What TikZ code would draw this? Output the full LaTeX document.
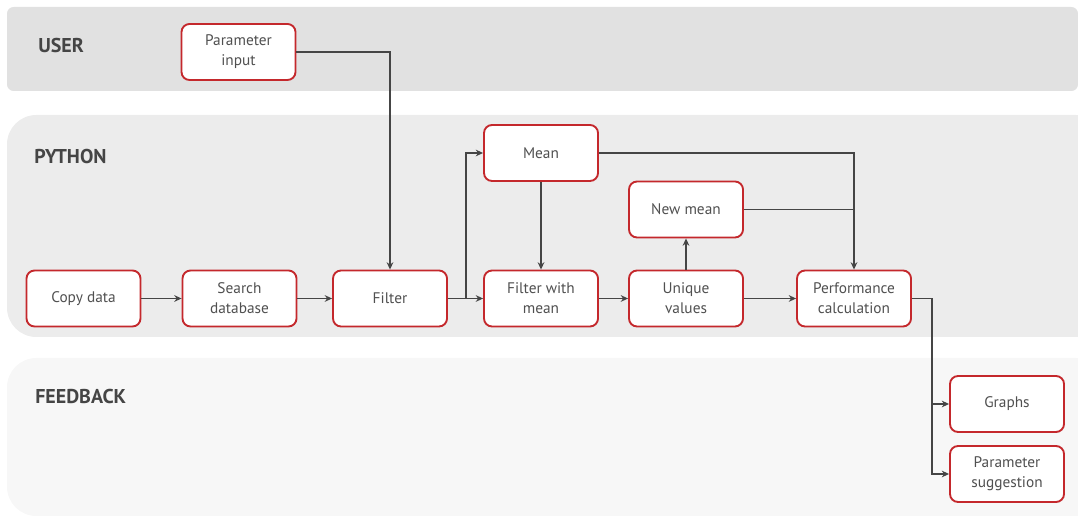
\documentclass[tikz,border=0pt]{standalone}
\usepackage{fontspec}
\setmainfont{PT Sans}
\usetikzlibrary{arrows.meta}

\definecolor{boxred}{HTML}{C4282C}
\definecolor{linegray}{HTML}{454545}
\definecolor{textgray}{HTML}{505050}
\definecolor{userband}{HTML}{E1E1E1}
\definecolor{pyband}{HTML}{ECECEC}
\definecolor{fbband}{HTML}{F7F7F7}

\tikzset{
  stepbox/.style={draw=boxred, line width=1.4pt, fill=white, rounded corners=6pt,
    minimum width=85.5pt, minimum height=42pt, align=center, inner sep=0pt,
    text=textgray, font=\fontsize{11.5}{15}\selectfont},
  flow/.style={draw=linegray, line width=1.4pt, -{Stealth[length=5.5pt,width=5pt]}},
  link/.style={draw=linegray, line width=1.4pt},
  lanename/.style={anchor=west, inner sep=0pt, text=linegray, font=\fontsize{15}{18}\selectfont\bfseries}
}

\begin{document}
\begin{tikzpicture}[x=0.75pt, y=-0.75pt]
    \useasboundingbox (0,0) rectangle (1078,516);
    \clip (0,0) rectangle (1078,516);

    % Lanes
    % ---------------------
    \fill[userband, rounded corners=5pt] (7,7) rectangle (1078,91);
    \fill[pyband, rounded corners=22pt] (7,115) rectangle (1105,337);
    \fill[fbband, rounded corners=22pt] (7,358) rectangle (1105,516);
    \node[lanename] (user) at (38,46) {USER};
    \node[lanename] (python) at (34,157) {PYTHON};
    \node[lanename] (feedback) at (35,397) {FEEDBACK};

    % Steps
    % ---------------------
    \node[stepbox] (pinput) at (238.5,52) {Parameter\\input};
    \node[stepbox] (copy) at (83.5,298.5) {Copy data};
    \node[stepbox] (search) at (239.5,298.5) {Search\\database};
    \node[stepbox] (filter) at (390,298.5) {Filter};
    \node[stepbox] (mean) at (541,153) {Mean};
    \node[stepbox] (fmean) at (541,298.5) {Filter with\\mean};
    \node[stepbox] (newmean) at (686,209.5) {New mean};
    \node[stepbox] (unique) at (686,298.5) {Unique\\values};
    \node[stepbox] (perf) at (854,298.5) {Performance\\calculation};
    \node[stepbox] (graphs) at (1007,404) {Graphs};
    \node[stepbox] (psugg) at (1007,474) {Parameter\\suggestion};

    % Connectors
    % ---------------------
    \draw[flow] (pinput.east) -| (filter.north);
    \draw[flow] (copy) -- (search);
    \draw[flow] (search) -- (filter);
    \draw[flow] (filter.east) -- ++(18,0) |- (mean.west);
    \draw[flow] (filter) -- (fmean);
    \draw[flow] (mean) -- (fmean);
    \draw[flow] (fmean) -- (unique);
    \draw[flow] (unique) -- (newmean);
    \draw[flow] (unique) -- (perf);
    \draw[flow] (mean.east) -| (perf.north);
    \draw[link] (newmean.east) -- (newmean.east -| perf.north);
    \draw[flow] (perf.east) -- ++(20,0) |- (graphs.west);
    \draw[flow] (perf.east) -- ++(20,0) |- (psugg.west);
\end{tikzpicture}
\end{document}
